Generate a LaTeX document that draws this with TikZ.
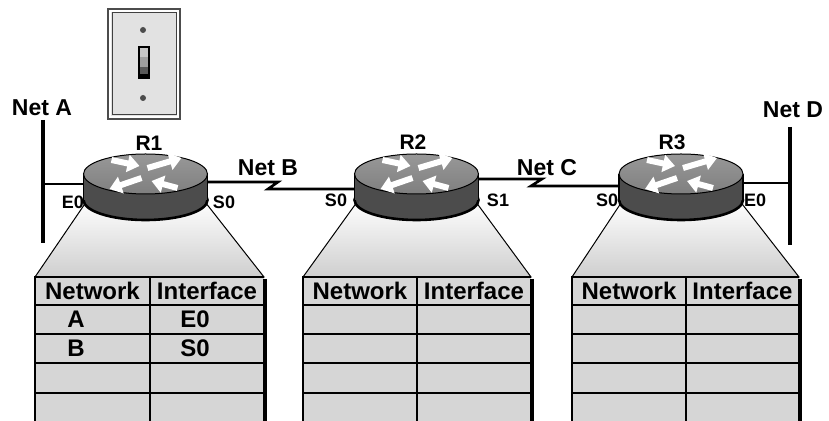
\documentclass[tikz,border=0pt]{standalone}
\usepackage{fontspec}
\setmainfont{Liberation Sans}
\usetikzlibrary{arrows.meta}

\definecolor{plate}{HTML}{E2E2E2}
\definecolor{tablegray}{HTML}{D6D6D6}
\definecolor{rtrtop}{HTML}{8A8A8A}
\definecolor{rtrside}{HTML}{4C4C4C}

\tikzset{
  bus/.style={line width=2pt},
  link/.style={line width=1.3pt, line join=miter},
  netlabel/.style={inner sep=0pt, font=\fontsize{11.5}{13}\selectfont\bfseries},
  ifclabel/.style={inner sep=0pt, font=\fontsize{9}{10}\selectfont\bfseries},
  rtrlabel/.style={inner sep=0pt, font=\fontsize{10.5}{12}\selectfont\bfseries},
  cell/.style={inner sep=0pt, font=\fontsize{12}{14}\selectfont\bfseries},
  flow/.style={white, line width=3pt, -{Triangle[width=8.5pt,length=6pt]}},
  rtrbox/.style={minimum width=62pt, minimum height=13pt, inner sep=0pt},
}

% router icon: #1 = node name, #2 = centre x (1 unit = 1px, y down)
\newcommand{\router}[2]{%
  \draw[line width=1.3pt, fill=rtrside] (#2,200) ellipse[x radius=62, y radius=20];
  \fill[rtrside] (#2-62,174) rectangle (#2+62,200);
  \draw[line width=0.6pt] (#2-62,174) -- (#2-62,200) (#2+62,174) -- (#2+62,200);
  \shade[top color=rtrtop!88!white, bottom color=rtrtop!92!black, draw=black, line width=0.5pt]
    (#2,174) ellipse[x radius=62, y radius=20];
  % arrows on the lid
  \draw[flow] (#2-34,160) -- (#2-6,166);
  \draw[flow] (#2+2,168) -- (#2+36,158);
  \draw[flow] (#2-4,178) -- (#2-36,189);
  \draw[flow] (#2+32,188) -- (#2+6,181);
  \node[rtrbox] (#1) at (#2,183) {};
}

% routing table under a router: #1 = router x, #2 = left, #3 = split, #4 = right
\newcommand{\routetable}[4]{%
  \shade[top color=white, bottom color=gray!38, draw=black, line width=0.5pt]
    (#1-58,200) -- (#1+58,200) -- (#4,277) -- (#2,277) -- cycle;
  \fill[tablegray] (#2,277) rectangle (#4,425);
  \draw[line width=0.8pt] (#2,425) -- (#2,277) -- (#4,277);
  \draw[line width=1.6pt] (#4+1,279) -- (#4+1,425);
  \draw[line width=0.8pt] (#3,277) -- (#3,425);
  \foreach \y in {305,334,363,393}
    \draw[line width=0.8pt] (#2,\y) -- (#4,\y);
  \node[cell] at ({(#2+#3)/2},291) {Network};
  \node[cell] at ({(#3+#4)/2},291) {Interface};
}

\begin{document}
\begin{tikzpicture}[x=0.5pt, y=-0.5pt]
\useasboundingbox (0,0) rectangle (829,421);
\clip (0,0) rectangle (829,421);

% light switch
\fill[plate, draw=black!70, line width=0.6pt] (108,9) rectangle (180,119);
\draw[white, line width=0.8pt] (110,11) rectangle (178,117);
\draw[black!75, line width=0.5pt] (112,13) rectangle (176,115);
\fill[black!70] (143,30) circle[radius=3];
\fill[black!70] (143,98) circle[radius=3];
\fill[black] (138,46) rectangle (150,79);
\fill[gray!45] (140,48) rectangle (148,57);
\fill[gray!75] (140,57) rectangle (148,67);
\fill[black!65] (140,67) rectangle (148,74);

% tables first, routers on top
\routetable{145.5}{35}{150}{264}
\routetable{416.5}{303}{417}{531}
\routetable{681}{572}{686}{799}

\router{r1}{145.5}
\router{r2}{416.5}
\router{r3}{681}

% Net A and Net D ethernet segments
\coordinate (netA top) at (43,120);
\coordinate (netA bot) at (43,243);
\coordinate (netD top) at (790,127);
\coordinate (netD bot) at (790,245);
\draw[bus] (netA top) -- (netA bot);
\draw[bus] (netD top) -- (netD bot);
\draw[link] ([yshift=-0.5pt]r1.west) -- ([yshift=-0.5pt]r1.west -| netA top);
\draw[link] (r3.east) -- (r3.east -| netD top);

% serial links with the zig
\coordinate (zigB1) at (278,182);
\coordinate (zigB2) at (268,189);
\coordinate (zigC1) at (542,179);
\coordinate (zigC2) at (531,186);
\draw[link] ([yshift=0.5pt]r1.east) -- (zigB1) -- (zigB2) -- ([yshift=-3pt]r2.west);
\draw[link] ([yshift=2pt]r2.east) -- (zigC1) -- (zigC2) -- ([yshift=-1.5pt]r3.west);

% labels
\node[netlabel] (lblA) at (42,108) {Net A};
\node[netlabel] (lblB) at (268,168) {Net B};
\node[netlabel] (lblC) at (547,168) {Net C};
\node[netlabel] (lblD) at (793,110) {Net D};
\node[rtrlabel] at (149,143) {R1};
\node[rtrlabel] at (413,142) {R2};
\node[rtrlabel] at (672,142) {R3};
\node[ifclabel] at (73,202) {E0};
\node[ifclabel] at (224,202) {S0};
\node[ifclabel] at (336,200) {S0};
\node[ifclabel] at (498,200) {S1};
\node[ifclabel] at (607,200) {S0};
\node[ifclabel] at (755,200) {E0};

% entries of R1
\node[cell] at (76,319) {A};
\node[cell] at (195,319) {E0};
\node[cell] at (76,348) {B};
\node[cell] at (195,348) {S0};
\end{tikzpicture}
\end{document}
